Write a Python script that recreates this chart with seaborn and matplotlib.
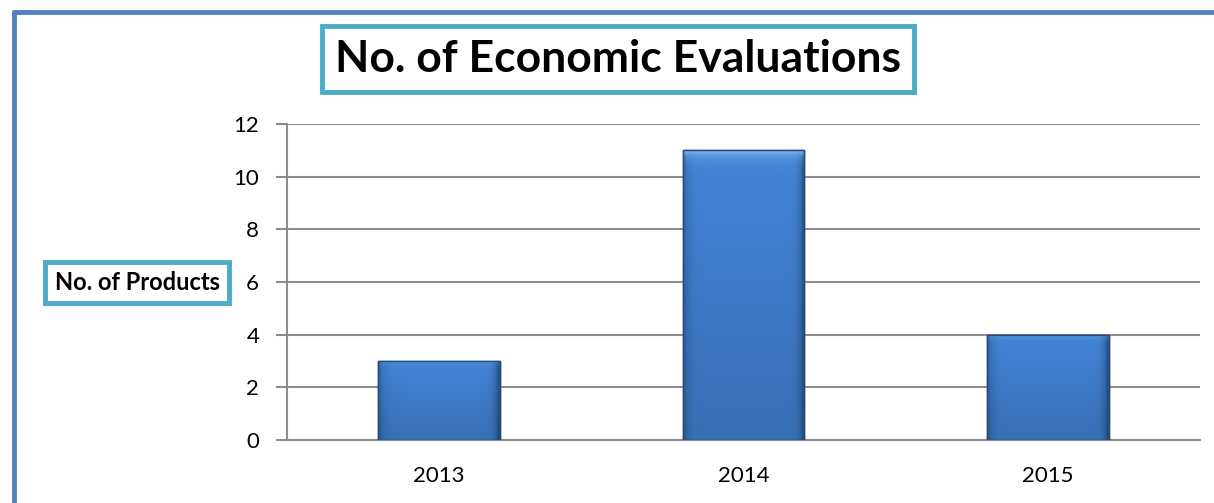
import numpy as np
import pandas as pd
import matplotlib.pyplot as plt
import seaborn as sns
from matplotlib.lines import Line2D

# data
years = ["2013", "2014", "2015"]
evaluations = [3, 11, 4]
y_ticks = [0, 2, 4, 6, 8, 10, 12]

df = pd.DataFrame({"year": years, "count": evaluations})

sns.set_style("white")
plt.rcParams["font.family"] = ["Lato", "DejaVu Sans"]

fig = plt.figure(figsize=(12.14, 5.03), dpi=100)
ax = fig.add_axes([0.2364, 0.1252, 0.7521, 0.6283])

sns.barplot(data=df, x="year", y="count", color="#3f7fd0", width=0.4,
            edgecolor="#1f3f6a", linewidth=1.0, ax=ax, zorder=3)

# bevel-ish shading on each bar
ax.set_xlim(-0.5, 2.5)
ax.set_ylim(0, 12)
for p in ax.patches:
    x0, y0, w, h = p.get_x(), p.get_y(), p.get_width(), p.get_height()
    ny, nx = 80, 40
    vy = np.linspace(0, 1, ny)[:, None]
    vx = np.linspace(0, 1, nx)[None, :]
    base = np.array([0.26, 0.52, 0.84])
    shade = 1.0 - 0.15 * vy                     # darker towards bottom
    edge = 1.0 - 0.2 * np.exp(-vx / 0.04) - 0.35 * np.exp(-(1 - vx) / 0.03)
    img = base[None, None, :] * (shade * edge)[:, :, None]
    top = (np.exp(-vy / 0.02) * np.ones((1, nx)))[:, :, None]
    img = img * (1 - top * 0.6) + np.array([0.6, 0.8, 0.97]) * top * 0.6
    img = np.clip(img, 0, 1)
    im = ax.imshow(img, extent=[x0, x0 + w, y0, y0 + h], aspect="auto",
                   zorder=3.5, interpolation="bilinear")
    im.set_clip_path(p)
    ax.add_patch(plt.Rectangle((x0, y0), w, h, fill=False,
                               edgecolor="#23487a", linewidth=1.0, zorder=4))
ax.set_xlim(-0.5, 2.5)
ax.set_ylim(0, 12)

ax.set_yticks(y_ticks)
ax.yaxis.grid(True, color="#8c8c8c", linewidth=1.5, zorder=0)
ax.set_axisbelow(True)
for s in ["top", "right"]:
    ax.spines[s].set_visible(False)
for s in ["left", "bottom"]:
    ax.spines[s].set_color("#8c8c8c")
    ax.spines[s].set_linewidth(1.5)

ax.set_xticks([-0.5, 0.5, 1.5, 2.5], minor=True)
ax.tick_params(axis="x", which="major", length=0, labelsize=16, pad=19,
               labelcolor="black")
ax.tick_params(axis="x", which="minor", length=8, width=1.5, color="#8c8c8c",
               direction="out")
ax.tick_params(axis="y", length=8, width=1.5, color="#8c8c8c", labelsize=16,
               direction="out", pad=12, left=True, labelcolor="black")
ax.set_xlabel("")
ax.set_ylabel("")

box = dict(boxstyle="square,pad=0.3", facecolor="white", edgecolor="#4bacc6",
           linewidth=3.5)
fig.text(0.509, 0.883, "No. of Economic Evaluations", fontsize=32,
         fontweight="bold", ha="center", va="center", color="black", bbox=box)
fig.text(0.113, 0.4384, "No. of Products", fontsize=17, fontweight="bold",
         ha="center", va="center", color="black",
         bbox=dict(boxstyle="square,pad=0.4", facecolor="white",
                   edgecolor="#4bacc6", linewidth=3.5))

# outer frame (left and top edges visible)
fig.add_artist(Line2D([0.0112, 0.0112], [0.0, 0.976], color="#4f81bd",
                      linewidth=3.5, transform=fig.transFigure))
fig.add_artist(Line2D([0.0112, 1.0], [0.976, 0.976], color="#4f81bd",
                      linewidth=3.5, transform=fig.transFigure))

fig.savefig("out.png", dpi=100)
